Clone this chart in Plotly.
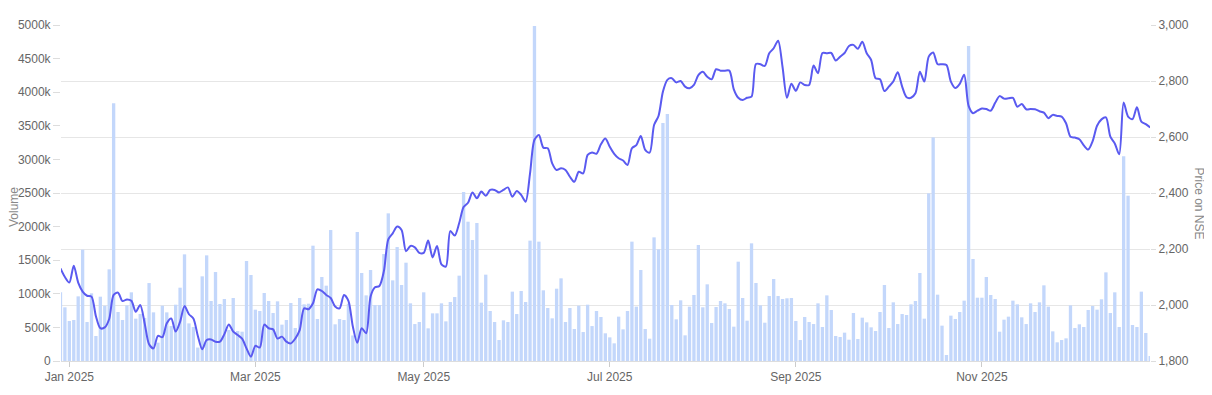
import plotly.graph_objects as go

# ---- data ----
month_ticks = [2, 44, 82, 124, 166, 208]
month_labels = ["Jan 2025", "Mar 2025", "May 2025", "Jul 2025", "Sep 2025", "Nov 2025"]

volume_ticks = [0, 500, 1000, 1500, 2000, 2500, 3000, 3500, 4000, 4500, 5000]
volume_tick_labels = ["0", "500k", "1000k", "1500k", "2000k", "2500k",
                      "3000k", "3500k", "4000k", "4500k", "5000k"]
price_ticks = [1800, 2000, 2200, 2400, 2600, 2800, 3000]

# daily traded volume, thousands of shares
volume_k = [
    1022, 799, 595, 610, 962, 1657, 580, 1007, 372, 957,
    823, 1364, 3834, 729, 610, 828, 1022, 630, 700, 640,
    1160, 724, 273, 823, 724, 520, 838, 1091, 1587, 560,
    506, 200, 1260, 1572, 893, 1324, 848, 923, 461, 938,
    446, 436, 1488, 1280, 764, 744, 1012, 893, 714, 888,
    541, 610, 863, 491, 938, 843, 853, 1716, 625, 1250,
    1121, 1949, 546, 625, 610, 853, 380, 1920, 1310, 977,
    1354, 833, 833, 1592, 2197, 1200, 1696, 1131, 1463, 858,
    550, 580, 1022, 486, 709, 709, 858, 590, 878, 952,
    1270, 2515, 2073, 1800, 2054, 868, 1285, 744, 580, 312,
    605, 580, 1032, 699, 1042, 878, 1791, 4985, 1776, 1052,
    789, 635, 1076, 1230, 580, 789, 476, 823, 431, 838,
    520, 744, 655, 412, 352, 263, 660, 471, 744, 1776,
    809, 1354, 476, 332, 1840, 1662, 3542, 3676, 833, 620,
    903, 382, 809, 982, 1726, 799, 1141, 565, 804, 893,
    858, 774, 511, 1478, 938, 600, 1751, 1161, 828, 570,
    967, 1220, 967, 923, 933, 938, 595, 312, 655, 580,
    550, 858, 506, 977, 759, 372, 357, 422, 317, 714,
    327, 645, 575, 501, 446, 729, 1131, 491, 873, 550,
    699, 685, 843, 893, 1310, 630, 2495, 3328, 987, 526,
    89, 675, 625, 729, 898, 4688, 1518, 942, 942, 1250,
    982, 923, 436, 615, 660, 898, 843, 650, 550, 858,
    729, 873, 1126, 809, 441, 278, 312, 337, 828, 491,
    546, 506, 759, 818, 764, 918, 1319, 714, 1022, 506,
    3046, 2460, 536, 506, 1032, 417, 74,
]

# daily closing price on NSE
price = [
    2131, 2100, 2080, 2140, 2080, 2048, 2033, 2030, 1960, 1917,
    1920, 1950, 2036, 2044, 2014, 2020, 2015, 1976, 2000, 1935,
    1860, 1845, 1890, 1885, 1935, 1952, 1905, 1940, 1996, 1967,
    1952, 1890, 1842, 1875, 1877, 1869, 1869, 1896, 1930, 1905,
    1893, 1880, 1845, 1815, 1854, 1848, 1930, 1917, 1913, 1880,
    1887, 1869, 1863, 1880, 1910, 1988, 1985, 2006, 2056, 2050,
    2036, 2025, 1995, 1988, 2036, 2015, 1923, 1865, 1917, 1899,
    2030, 2063, 2068, 2120, 2234, 2256, 2280, 2268, 2192, 2211,
    2206, 2186, 2186, 2230, 2170, 2211, 2145, 2137, 2264, 2248,
    2292, 2350, 2365, 2402, 2381, 2405, 2390, 2411, 2411, 2402,
    2411, 2420, 2387, 2407, 2393, 2369, 2470, 2590, 2607, 2562,
    2560, 2506, 2482, 2488, 2482, 2458, 2440, 2476, 2470, 2536,
    2545, 2540, 2574, 2595, 2565, 2540, 2524, 2516, 2500, 2560,
    2571, 2604, 2554, 2544, 2643, 2675, 2762, 2804, 2810, 2795,
    2800, 2780, 2774, 2786, 2821, 2833, 2815, 2806, 2842, 2837,
    2837, 2837, 2770, 2740, 2732, 2740, 2744, 2861, 2860, 2854,
    2899, 2917, 2944, 2850, 2740, 2790, 2765, 2795, 2786, 2786,
    2855, 2828, 2900, 2899, 2900, 2873, 2887, 2900, 2925, 2929,
    2915, 2940, 2899, 2875, 2810, 2806, 2764, 2780, 2798, 2831,
    2780, 2742, 2740, 2756, 2833, 2798, 2887, 2902, 2860, 2860,
    2857, 2798, 2775, 2790, 2822, 2711, 2685, 2694, 2702, 2700,
    2694, 2722, 2746, 2737, 2738, 2740, 2708, 2718, 2699, 2700,
    2699, 2692, 2687, 2667, 2679, 2675, 2673, 2649, 2601, 2598,
    2592, 2570, 2555, 2585, 2640, 2663, 2670, 2601, 2577, 2538,
    2723, 2673, 2664, 2706, 2655, 2646, 2634,
]

day_index = list(range(len(volume_k)))

# ---- figure ----
FONT = "Liberation Sans, Arial, sans-serif"
TICK_COLOR = "#666666"
GRID = "#e6e6e6"

# The page body has an 8px default margin, so the figure starts at (8, 8).
# Figure is sized to fit the 1212x395 window without overflow; margins place
# the plot area at x 61..1150, y 25..361 in window pixels.
OFF = 8
FIG_W, FIG_H = 1212 - 2 * OFF, 395 - 2 * OFF
PLOT_L, PLOT_R, PLOT_T, PLOT_B = 61, 1150, 25, 361
PW, PH = PLOT_R - PLOT_L, PLOT_B - PLOT_T

fig = go.Figure()
fig.add_trace(go.Bar(
    x=day_index, y=volume_k, yaxis="y",
    marker=dict(color="#c3d7fb", line=dict(width=0)),
    name="Volume", hoverinfo="y",
))
fig.add_trace(go.Scatter(
    x=day_index, y=price, yaxis="y2", mode="lines",
    line=dict(color="#5a5af0", width=2, shape="spline", smoothing=0.8),
    name="Price on NSE",
))

fig.update_layout(
    width=FIG_W, height=FIG_H,
    margin=dict(l=PLOT_L - OFF, r=FIG_W - (PLOT_R - OFF),
                t=PLOT_T - OFF, b=FIG_H - (PLOT_B - OFF)),
    paper_bgcolor="white", plot_bgcolor="white",
    showlegend=False,
    bargap=0.25,
    font=dict(family=FONT, size=12, color=TICK_COLOR),
    xaxis=dict(
        range=[0.12, 245.95], automargin=False,
        tickmode="array", tickvals=month_ticks, ticktext=month_labels,
        ticks="outside", ticklen=5, tickcolor="#cccccc",
        showgrid=False, zeroline=False,
        showline=True, linecolor="#dddddd", linewidth=1,
        tickfont=dict(size=12, color=TICK_COLOR),
    ),
    yaxis=dict(
        range=[0, 5000], automargin=False,
        tickmode="array", tickvals=volume_ticks, ticktext=volume_tick_labels,
        ticks="outside", ticklen=7, tickcolor="#dddddd",
        showgrid=False, zeroline=False, showline=False,
        tickfont=dict(size=12, color=TICK_COLOR),
    ),
    yaxis2=dict(
        range=[1800, 3000], overlaying="y", side="right", automargin=False,
        tickmode="array", tickvals=price_ticks, tickformat=",",
        ticks="outside", ticklen=5, tickcolor="#dddddd",
        showgrid=True, gridcolor=GRID, gridwidth=1,
        zeroline=False, showline=False,
        tickfont=dict(size=12, color=TICK_COLOR),
    ),
    annotations=[
        dict(text="Volume", xref="paper", yref="paper",
             x=(14 - PLOT_L) / PW, y=(PLOT_B - 207) / PH,
             xanchor="center", yanchor="middle",
             showarrow=False, textangle=-90,
             font=dict(family=FONT, size=12, color="#888888")),
        dict(text="Price on NSE", xref="paper", yref="paper",
             x=(1198.5 - PLOT_L) / PW, y=(PLOT_B - 203) / PH,
             xanchor="center", yanchor="middle",
             showarrow=False, textangle=90,
             font=dict(family=FONT, size=12, color="#888888")),
    ],
)

fig.write_html("out.html")
